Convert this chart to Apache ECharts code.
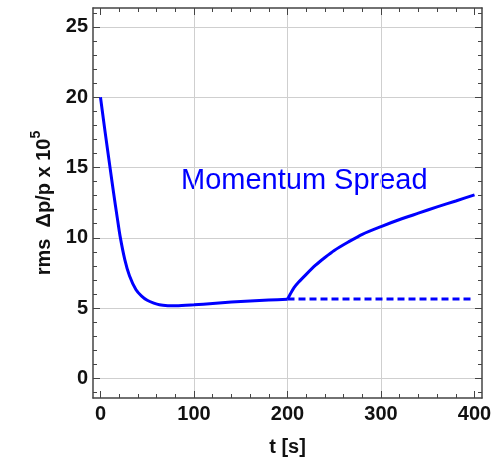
<!DOCTYPE html>
<html>
<head>
<meta charset="utf-8">
<script src="https://cdn.jsdelivr.net/npm/echarts@6/dist/echarts.min.js"></script>
<style>
  html, body { margin: 0; padding: 0; background: #fff; }
  #main { width: 504px; height: 466px; }
</style>
</head>
<body>
<div id="main"></div>
<script>
// cooling curve, t in seconds, rms dp/p in units of 1e-5
var coolT = [0, 5, 10, 14, 18, 21, 26, 31, 38, 44, 50, 57, 63, 72, 81, 100, 120, 140, 160, 180, 200]
var coolY = [20, 17.5, 15.1, 13.2, 11.4, 10.1, 8.45, 7.3, 6.3, 5.85, 5.55, 5.35, 5.23, 5.17, 5.16, 5.23, 5.33, 5.43, 5.51, 5.57, 5.63]
// growth after cooling is switched off
var heatT = [200, 203, 207, 212, 220, 230, 240, 250, 265, 280, 300, 320, 340, 360, 380, 400]
var heatY = [5.63, 6.0, 6.45, 6.85, 7.4, 8.05, 8.6, 9.1, 9.7, 10.25, 10.8, 11.3, 11.75, 12.2, 12.62, 13.05]
// equilibrium level (dashed)
var flatT = [200, 400]
var flatY = [5.65, 5.65]

var xMajor = [0, 100, 200, 300, 400]
var xMinor = [20, 40, 60, 80, 120, 140, 160, 180, 220, 240, 260, 280, 320, 340, 360, 380]
var xGrid = [100, 200, 300]
var yMajor = [0, 5, 10, 15, 20, 25]
var yMinor = [-1, 1, 2, 3, 4, 6, 7, 8, 9, 11, 12, 13, 14, 16, 17, 18, 19, 21, 22, 23, 24, 26]

var labelText = 'Momentum Spread'
var xName = 't [s]'

function pairs(xs, ys) {
  var out = []
  for (var i = 0; i < xs.length; i++) out.push([xs[i], ys[i]])
  return out
}

var font = '"Liberation Sans", Arial, sans-serif'
var frameColor = '#444'

function tickAxis(pos, ticks, len, showLine, labels) {
  return {
    type: 'value',
    position: pos,
    axisLine: { show: showLine, onZero: false, lineStyle: { color: frameColor, width: 1.5 } },
    axisTick: { show: true, inside: true, length: len, customValues: ticks, lineStyle: { color: frameColor, width: 1 } },
    axisLabel: labels ? {
      show: true, customValues: labels, color: '#111', fontSize: 20, fontWeight: 'bold', fontFamily: font, margin: 6
    } : { show: false },
    splitLine: { show: false }
  }
}

function init() {
  var chart = echarts.init(document.getElementById('main'))

  var xAxes = [
    tickAxis('bottom', xMajor, 7, true, xMajor),
    tickAxis('bottom', xMinor, 4, false, null),
    tickAxis('top', xMajor, 7, true, null),
    tickAxis('top', xMinor, 4, false, null),
    {
      type: 'value', position: 'bottom',
      axisLine: { show: false }, axisLabel: { show: false },
      axisTick: { show: false, customValues: xGrid },
      splitLine: { show: true, lineStyle: { color: '#cfcfcf', width: 1 } }
    }
  ]
  xAxes.forEach(function (a) { a.min = -8; a.max = 408 })
  xAxes[0].name = xName
  xAxes[0].nameLocation = 'middle'
  xAxes[0].nameGap = 39
  xAxes[0].nameTextStyle = { color: '#111', fontSize: 20, fontWeight: 'bold', fontFamily: font }

  var yAxes = [
    tickAxis('left', yMajor, 7, true, yMajor),
    tickAxis('left', yMinor, 4, false, null),
    tickAxis('right', yMajor, 7, true, null),
    tickAxis('right', yMinor, 4, false, null)
  ]
  yAxes.forEach(function (a) { a.min = -1.4; a.max = 26.35 })
  yAxes[0].axisLabel.margin = 5
  yAxes[0].splitLine = { show: true, lineStyle: { color: '#cfcfcf', width: 1 } }
  yAxes[0].name = '{m|rms  Δp/p x 10}{s|5}'
  yAxes[0].nameLocation = 'middle'
  yAxes[0].nameGap = 38
  yAxes[0].nameTextStyle = {
    rich: {
      m: { color: '#111', fontSize: 20, fontWeight: 'bold', fontFamily: font, lineHeight: 26, verticalAlign: 'bottom' },
      s: { color: '#111', fontSize: 14, fontWeight: 'bold', fontFamily: font, verticalAlign: 'top' }
    }
  }

  var lineStyle = { color: '#0000ff', width: 3 }

  var option = {
    animation: false,
    grid: { left: 93, right: 22, top: 8, bottom: 68 },
    xAxis: xAxes,
    yAxis: yAxes,
    graphic: [{
      type: 'text', left: 181, top: 166,
      style: { text: labelText, fill: '#0000ff', fontSize: 29, fontFamily: font }
    }],
    series: [
      {
        type: 'line', data: pairs(coolT, coolY), showSymbol: false,
        smooth: 0.25, lineStyle: lineStyle
      },
      {
        type: 'line', data: pairs(heatT, heatY), showSymbol: false,
        smooth: 0.25, lineStyle: lineStyle
      },
      {
        type: 'line', data: pairs(flatT, flatY), showSymbol: false,
        lineStyle: { color: '#0000ff', width: 3, type: [7, 4] }
      }
    ]
  }
  chart.setOption(option)
}

init()
</script>
</body>
</html>
